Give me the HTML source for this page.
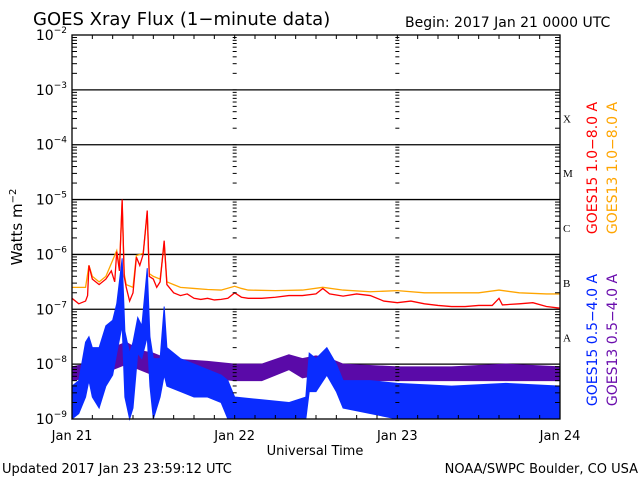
<!DOCTYPE html>
<html><head><meta charset="utf-8"><style>
body{margin:0;background:#fff;}
svg{display:block;font-family:"DejaVu Sans","Liberation Sans",sans-serif;}
</style></head><body>
<svg id="chart" width="640" height="480" viewBox="0 0 640 480">
<text x="33" y="25" font-size="18">GOES Xray Flux (1−minute data)</text>
<text x="405" y="27" font-size="14">Begin:  2017 Jan 21 0000 UTC</text>
<text transform="translate(22,227) rotate(-90)" text-anchor="middle" font-size="15">Watts m<tspan dy="-6" font-size="10">−2</tspan></text>
<text x="315" y="455" text-anchor="middle" font-size="13">Universal Time</text>
<text x="2" y="473" font-size="13">Updated 2017 Jan 23 23:59:12 UTC</text>
<text x="638" y="473" text-anchor="end" font-size="13">NOAA/SWPC Boulder, CO USA</text>
<g id="grid"></g><g id="series"></g><g id="axes"></g>
<text transform="translate(597,168) rotate(-90)" text-anchor="middle" font-size="14" fill="#ff0000">GOES15 1.0−8.0 A</text>
<text transform="translate(617,168) rotate(-90)" text-anchor="middle" font-size="14" fill="#ffa500">GOES13 1.0−8.0 A</text>
<text transform="translate(597,340) rotate(-90)" text-anchor="middle" font-size="14" fill="#0022ff">GOES15 0.5−4.0 A</text>
<text transform="translate(617,340) rotate(-90)" text-anchor="middle" font-size="14" fill="#6a0dad">GOES13 0.5−4.0 A</text>
</svg>
<script>
const dayLabels=["Jan 21","Jan 22","Jan 23","Jan 24"];
const decadeExps=[-2,-3,-4,-5,-6,-7,-8,-9];
const classLabels=["X","M","C","B","A"];
const redT=[0,1,2,2.3,2.5,3,4,5,5.8,6.3,6.6,7,7.4,7.7,8,8.5,9,9.5,10,10.5,11.1,11.4,12,12.5,13,13.6,14,15,16,17,18,19,20,21,22,23,24,25,26,28,30,32,34,36,37,38,40,42,44,46,48,50,52,54,56,58,60,62,63,63.5,66,68,70,72];
const redV=[-6.8,-6.9,-6.85,-6.75,-6.2,-6.45,-6.55,-6.45,-6.3,-6.5,-5.95,-6.3,-5.0,-6.4,-6.6,-6.85,-6.7,-6.05,-6.2,-6.0,-5.2,-6.4,-6.45,-6.6,-6.5,-5.75,-6.55,-6.7,-6.75,-6.72,-6.8,-6.82,-6.8,-6.83,-6.82,-6.8,-6.7,-6.78,-6.8,-6.8,-6.78,-6.75,-6.75,-6.72,-6.62,-6.72,-6.76,-6.72,-6.75,-6.85,-6.88,-6.85,-6.9,-6.93,-6.95,-6.95,-6.93,-6.93,-6.8,-6.92,-6.9,-6.88,-6.95,-6.98];
const orgT=[0,2,2.5,3,4,5,6.6,7,7.4,7.7,8,9,9.5,10.5,11.1,11.4,12,13,13.6,14,15,16,18,20,22,24,25,26,30,34,37,40,44,48,52,56,60,63,66,70,72];
const orgV=[-6.6,-6.6,-6.2,-6.4,-6.5,-6.4,-5.93,-6.25,-5.05,-6.35,-6.55,-6.6,-6.02,-5.98,-5.25,-6.35,-6.4,-6.45,-5.8,-6.5,-6.55,-6.6,-6.62,-6.64,-6.65,-6.58,-6.62,-6.65,-6.66,-6.65,-6.6,-6.65,-6.68,-6.66,-6.7,-6.7,-6.7,-6.65,-6.7,-6.72,-6.72];
const bluT=[0,1,2,2.5,3,4,5,6,6.6,7.4,7.8,8.5,9,9.7,10.3,11.1,11.5,12,13,13.6,14,16,18,20,22,23,24,28,32,34.5,35,36,37.6,39,40,44,48,56,64,72];
const bluHi=[-8.4,-8.3,-7.6,-7.5,-7.7,-7.7,-7.3,-7.2,-6.9,-6.07,-7.4,-7.8,-7.6,-7.15,-7.3,-6.25,-7.5,-7.9,-7.9,-6.95,-7.7,-7.9,-8.0,-8.1,-8.2,-8.3,-8.6,-8.65,-8.7,-8.6,-7.8,-7.9,-7.7,-8.0,-8.3,-8.3,-8.35,-8.4,-8.35,-8.4];
const bluLo=[-9,-8.9,-8.6,-8.3,-8.6,-8.8,-8.4,-8.2,-7.8,-7.3,-8.6,-9,-8.8,-7.8,-7.9,-7.5,-8.4,-9,-8.6,-8.2,-8.4,-8.5,-8.6,-8.6,-8.7,-9,-9,-9,-9,-9,-8.5,-8.5,-8.2,-8.5,-8.8,-8.9,-9,-9,-9,-9];
const purT=[0,2,4,6,8,10,12,14,20,24,28,32,34,36,38,40,48,56,64,72];
const purHi=[-8.05,-8.0,-7.8,-7.7,-7.6,-7.75,-7.8,-7.9,-7.95,-8.0,-8.0,-7.83,-7.9,-7.85,-7.9,-8.0,-8.05,-8.05,-8.0,-8.05];
const purLo=[-8.3,-8.25,-8.2,-8.1,-8.0,-8.1,-8.2,-8.2,-8.25,-8.3,-8.3,-8.1,-8.25,-8.2,-8.2,-8.3,-8.3,-8.3,-8.3,-8.3];

const NS="http://www.w3.org/2000/svg";
const L=72,R=560,T=35,B=419;
const xs=h=>L+(R-L)*h/72;
const ys=v=>B-(v+9)*(B-T)/7;
function mk(tag,attrs,parent){const e=document.createElementNS(NS,tag);for(const k in attrs)e.setAttribute(k,attrs[k]);parent.appendChild(e);return e;}
const grid=document.getElementById('grid'),ser=document.getElementById('series'),ax=document.getElementById('axes');
decadeExps.forEach(e=>{if(e>-3||e<-8)return;const l=mk('line',{x1:L,x2:R,y1:ys(e),y2:ys(e),stroke:'#000','stroke-width':1.3},grid);

});
decadeExps.forEach(e=>{const t=mk('text',{x:L-5,y:ys(e)+5,'text-anchor':'end','font-size':14},ax);


t.textContent='10';const s=mk('tspan',{dy:-7,'font-size':9},t);s.textContent='−'+(-e);
if(e>-9){for(let m=1;m<=9;m++){const y=ys(e-1+Math.log10(m));const len=m==1?0:5;
[L,R].forEach((x0,i)=>{const tk=mk('line',{x1:x0,x2:i?x0-len:x0+len,y1:y,y2:y,stroke:'#000'},ax);});
[1,2].forEach(d=>{const x=xs(24*d);const tk=mk('line',{x1:x-2,x2:x+2,y1:y,y2:y,stroke:'#000'},ax);});}}});
for(let h=3;h<72;h+=3){[T,B].forEach((y0,i)=>{const tk=mk('line',{x1:xs(h),x2:xs(h),y1:y0,y2:i?y0-4:y0+4,stroke:'#000'},ax);});}
dayLabels.forEach((d,i)=>{const t=mk('text',{x:xs(24*i),y:440,'text-anchor':'middle','font-size':13},ax);t.textContent=d;});
classLabels.forEach((c,i)=>{const t=mk('text',{x:R+3,y:ys(-3.5-i)+5,'font-size':11,'font-family':'Liberation Serif,serif'},ax);t.textContent=c;});
const fr=mk('rect',{x:L,y:T,width:R-L,height:B-T,fill:'none',stroke:'#000','stroke-width':1.3},ax);
function band(t,hi,lo,col,name){let d='';t.forEach((h,i)=>{d+=(i?'L':'M')+xs(h)+','+ys(hi[i]);});for(let i=t.length-1;i>=0;i--)d+='L'+xs(t[i])+','+ys(lo[i]);d+='Z';
const p=mk('path',{d:d,fill:col,stroke:col,'stroke-width':1},ser);}
function line(t,v,col,name){const p=mk('polyline',{points:t.map((h,i)=>xs(h)+','+ys(v[i])).join(' '),fill:'none',stroke:col,'stroke-width':1.3},ser);}
band(purT,purHi,purLo,'#5a0aa8','goes13-short-series');
band(bluT,bluHi,bluLo,'#0a2cff','goes15-short-series');
line(orgT,orgV,'#ffa500','goes13-long-series');
line(redT,redV,'#ff0000','goes15-long-series');
</script>
</body></html>
